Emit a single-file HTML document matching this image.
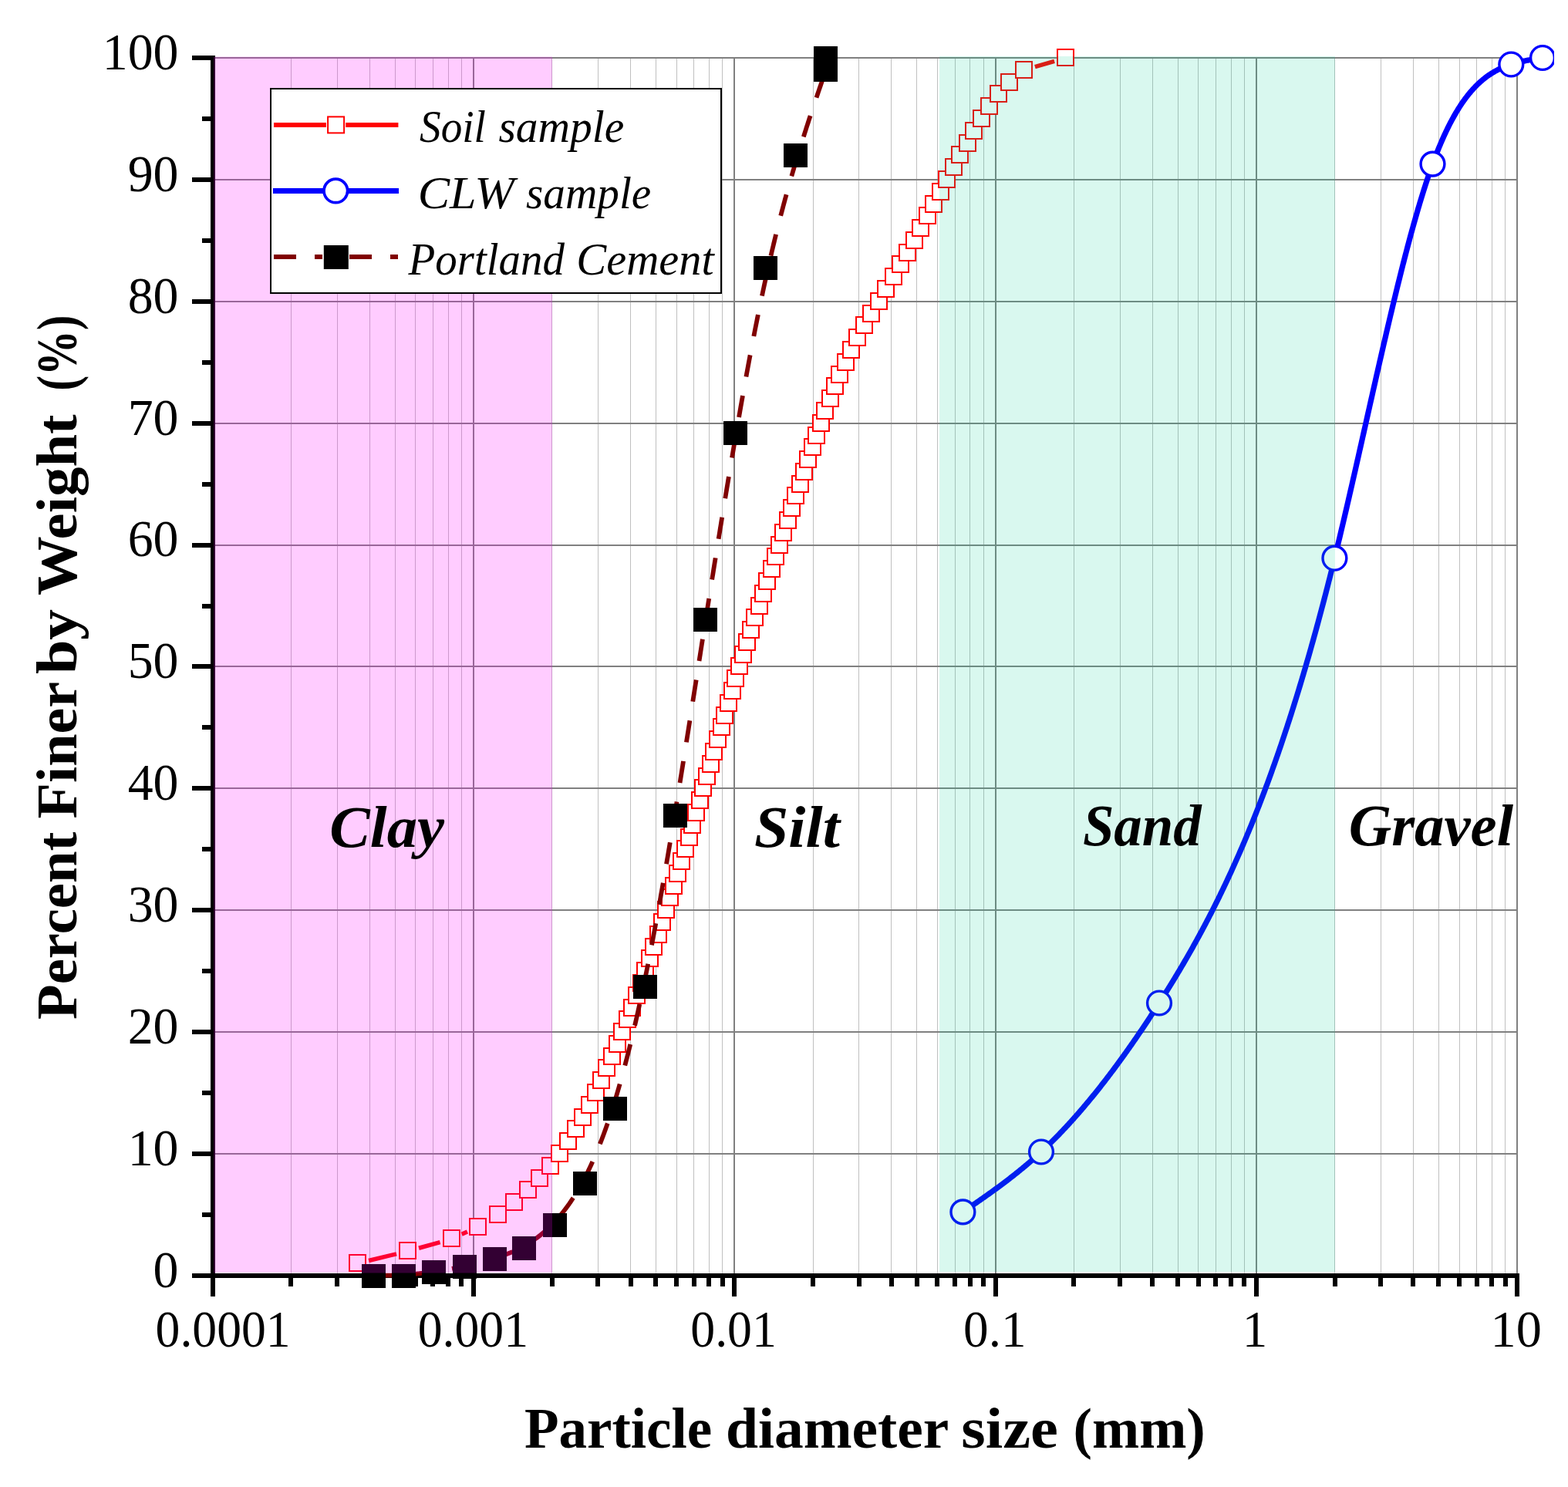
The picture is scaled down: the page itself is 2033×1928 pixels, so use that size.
<!DOCTYPE html><html><head><meta charset="utf-8"><title>Particle size distribution</title><style>html,body{margin:0;padding:0;background:#fff;overflow:hidden}svg{display:block}</style></head><body>
<svg width="2033" height="1928" viewBox="0 0 2033 1928">
<rect x="0" y="0" width="2033" height="1928" fill="#fff"/>
<path d="M377.5 74.0V1651.0M437.5 74.0V1651.0M479.5 74.0V1651.0M512.5 74.0V1651.0M538.5 74.0V1651.0M561.5 74.0V1651.0M581.5 74.0V1651.0M598.5 74.0V1651.0M715.5 74.0V1651.0M775.5 74.0V1651.0M817.5 74.0V1651.0M850.5 74.0V1651.0M877.5 74.0V1651.0M899.5 74.0V1651.0M919.5 74.0V1651.0M936.5 74.0V1651.0M1054.5 74.0V1651.0M1113.5 74.0V1651.0M1155.5 74.0V1651.0M1188.5 74.0V1651.0M1215.5 74.0V1651.0M1238.5 74.0V1651.0M1257.5 74.0V1651.0M1275.5 74.0V1651.0M1392.5 74.0V1651.0M1452.5 74.0V1651.0M1494.5 74.0V1651.0M1527.5 74.0V1651.0M1553.5 74.0V1651.0M1576.5 74.0V1651.0M1596.5 74.0V1651.0M1613.5 74.0V1651.0M1730.5 74.0V1651.0M1790.5 74.0V1651.0M1832.5 74.0V1651.0M1865.5 74.0V1651.0M1892.5 74.0V1651.0M1914.5 74.0V1651.0M1934.5 74.0V1651.0M1951.5 74.0V1651.0" stroke="#c0c0c0" stroke-width="1" fill="none"/>
<path d="M614 74.0V1651.0M952 74.0V1651.0M1291 74.0V1651.0M1629 74.0V1651.0M1967 74.0V1651.0M279.0 1496H1968.0M279.0 1338H1968.0M279.0 1180H1968.0M279.0 1022H1968.0M279.0 864H1968.0M279.0 707H1968.0M279.0 549H1968.0M279.0 391H1968.0M279.0 233H1968.0M279.0 75H1968.0" stroke="#808080" stroke-width="2" fill="none"/>
<path d="M276 72V1657M273 1654H1970M249 1654H276M249 1496H276M249 1338H276M249 1180H276M249 1022H276M249 864H276M249 707H276M249 549H276M249 391H276M249 233H276M249 75H276M262 1575H276M262 1417H276M262 1259H276M262 1101H276M262 943H276M262 786H276M262 628H276M262 470H276M262 312H276M262 154H276M276 1654V1681M614 1654V1681M952 1654V1681M1291 1654V1681M1629 1654V1681M1967 1654V1681M377 1654V1668M437 1654V1668M479 1654V1668M512 1654V1668M539 1654V1668M561 1654V1668M581 1654V1668M598 1654V1668M716 1654V1668M775 1654V1668M818 1654V1668M850 1654V1668M877 1654V1668M900 1654V1668M919 1654V1668M937 1654V1668M1054 1654V1668M1114 1654V1668M1156 1654V1668M1189 1654V1668M1215 1654V1668M1238 1654V1668M1258 1654V1668M1275 1654V1668M1392 1654V1668M1452 1654V1668M1494 1654V1668M1527 1654V1668M1554 1654V1668M1576 1654V1668M1596 1654V1668M1613 1654V1668M1731 1654V1668M1790 1654V1668M1832 1654V1668M1865 1654V1668M1892 1654V1668M1915 1654V1668M1934 1654V1668M1952 1654V1668" stroke="#000" stroke-width="6" fill="none" stroke-linecap="butt"/>
<path d="M478.08,1634.53L514.02,1625.81M543.04,1618.23L570.56,1610.53M598.65,1600.26L605.95,1596.93M1341.90,86.68L1367.10,79.31" stroke="#f00" stroke-width="5.5" fill="none" stroke-linejoin="round" stroke-linecap="butt"/>
<g fill="#fff" stroke="#f00" stroke-width="2"><rect x="453" y="1627" width="21" height="21"/><rect x="518" y="1611" width="21" height="21"/><rect x="575" y="1595" width="21" height="21"/><rect x="609" y="1580" width="21" height="21"/><rect x="635" y="1564" width="21" height="21"/><rect x="656" y="1548" width="21" height="21"/><rect x="674" y="1532" width="21" height="21"/><rect x="689" y="1517" width="21" height="21"/><rect x="703" y="1501" width="21" height="21"/><rect x="715" y="1485" width="21" height="21"/><rect x="726" y="1469" width="21" height="21"/><rect x="736" y="1453" width="21" height="21"/><rect x="745" y="1438" width="21" height="21"/><rect x="754" y="1422" width="21" height="21"/><rect x="762" y="1406" width="21" height="21"/><rect x="769" y="1390" width="21" height="21"/><rect x="776" y="1374" width="21" height="21"/><rect x="783" y="1359" width="21" height="21"/><rect x="790" y="1343" width="21" height="21"/><rect x="796" y="1327" width="21" height="21"/><rect x="803" y="1311" width="21" height="21"/><rect x="809" y="1296" width="21" height="21"/><rect x="815" y="1280" width="21" height="21"/><rect x="821" y="1264" width="21" height="21"/><rect x="826" y="1248" width="21" height="21"/><rect x="832" y="1232" width="21" height="21"/><rect x="837" y="1217" width="21" height="21"/><rect x="843" y="1201" width="21" height="21"/><rect x="848" y="1185" width="21" height="21"/><rect x="853" y="1169" width="21" height="21"/><rect x="858" y="1153" width="21" height="21"/><rect x="863" y="1138" width="21" height="21"/><rect x="868" y="1122" width="21" height="21"/><rect x="873" y="1106" width="21" height="21"/><rect x="878" y="1090" width="21" height="21"/><rect x="883" y="1075" width="21" height="21"/><rect x="887" y="1059" width="21" height="21"/><rect x="892" y="1043" width="21" height="21"/><rect x="897" y="1027" width="21" height="21"/><rect x="901" y="1011" width="21" height="21"/><rect x="906" y="996" width="21" height="21"/><rect x="911" y="980" width="21" height="21"/><rect x="915" y="964" width="21" height="21"/><rect x="920" y="948" width="21" height="21"/><rect x="925" y="932" width="21" height="21"/><rect x="929" y="917" width="21" height="21"/><rect x="934" y="901" width="21" height="21"/><rect x="939" y="885" width="21" height="21"/><rect x="943" y="869" width="21" height="21"/><rect x="948" y="853" width="21" height="21"/><rect x="953" y="838" width="21" height="21"/><rect x="958" y="822" width="21" height="21"/><rect x="963" y="806" width="21" height="21"/><rect x="968" y="790" width="21" height="21"/><rect x="974" y="775" width="21" height="21"/><rect x="979" y="759" width="21" height="21"/><rect x="984" y="743" width="21" height="21"/><rect x="990" y="727" width="21" height="21"/><rect x="995" y="711" width="21" height="21"/><rect x="1000" y="696" width="21" height="21"/><rect x="1005" y="680" width="21" height="21"/><rect x="1011" y="664" width="21" height="21"/><rect x="1016" y="648" width="21" height="21"/><rect x="1021" y="632" width="21" height="21"/><rect x="1027" y="617" width="21" height="21"/><rect x="1032" y="601" width="21" height="21"/><rect x="1037" y="585" width="21" height="21"/><rect x="1043" y="569" width="21" height="21"/><rect x="1048" y="554" width="21" height="21"/><rect x="1054" y="538" width="21" height="21"/><rect x="1059" y="522" width="21" height="21"/><rect x="1066" y="506" width="21" height="21"/><rect x="1072" y="490" width="21" height="21"/><rect x="1078" y="475" width="21" height="21"/><rect x="1086" y="459" width="21" height="21"/><rect x="1093" y="443" width="21" height="21"/><rect x="1101" y="427" width="21" height="21"/><rect x="1110" y="411" width="21" height="21"/><rect x="1119" y="396" width="21" height="21"/><rect x="1129" y="380" width="21" height="21"/><rect x="1138" y="364" width="21" height="21"/><rect x="1148" y="348" width="21" height="21"/><rect x="1157" y="332" width="21" height="21"/><rect x="1166" y="317" width="21" height="21"/><rect x="1175" y="301" width="21" height="21"/><rect x="1183" y="285" width="21" height="21"/><rect x="1192" y="269" width="21" height="21"/><rect x="1200" y="254" width="21" height="21"/><rect x="1209" y="238" width="21" height="21"/><rect x="1217" y="222" width="21" height="21"/><rect x="1226" y="206" width="21" height="21"/><rect x="1234" y="190" width="21" height="21"/><rect x="1244" y="175" width="21" height="21"/><rect x="1252" y="159" width="21" height="21"/><rect x="1262" y="143" width="21" height="21"/><rect x="1272" y="127" width="21" height="21"/><rect x="1284" y="111" width="21" height="21"/><rect x="1298" y="96" width="21" height="21"/><rect x="1317" y="80" width="21" height="21"/><rect x="1371" y="64" width="21" height="21"/></g>
<defs><clipPath id="pg"><rect x="0" y="0" width="2015" height="1928"/></clipPath></defs><g clip-path="url(#pg)">
<path d="M1248.40,1571.40 1249.40,1570.71 1250.40,1570.03 1251.40,1569.34 1252.40,1568.65 1253.40,1567.97 1254.40,1567.28 1255.41,1566.59 1256.41,1565.90 1257.41,1565.21 1258.41,1564.52 1259.41,1563.84 1260.41,1563.15 1261.41,1562.45 1262.41,1561.76 1263.41,1561.07 1264.41,1560.38 1265.41,1559.69 1266.41,1558.99 1267.42,1558.30 1268.42,1557.60 1269.42,1556.91 1270.42,1556.21 1271.42,1555.51 1272.42,1554.81 1273.42,1554.11 1274.42,1553.41 1275.42,1552.70 1276.42,1552.00 1277.42,1551.29 1278.42,1550.59 1279.42,1549.88 1280.43,1549.17 1281.43,1548.46 1282.43,1547.74 1283.43,1547.03 1284.43,1546.31 1285.43,1545.59 1286.43,1544.87 1287.43,1544.15 1288.43,1543.43 1289.43,1542.70 1290.43,1541.98 1291.43,1541.25 1292.44,1540.52 1293.44,1539.78 1294.44,1539.05 1295.44,1538.31 1296.44,1537.57 1297.44,1536.83 1298.44,1536.08 1299.44,1535.34 1300.44,1534.59 1301.44,1533.84 1302.44,1533.08 1303.44,1532.33 1304.44,1531.57 1305.45,1530.81 1306.45,1530.04 1307.45,1529.27 1308.45,1528.51 1309.45,1527.73 1310.45,1526.96 1311.45,1526.18 1312.45,1525.40 1313.45,1524.61 1314.45,1523.83 1315.45,1523.03 1316.45,1522.24 1317.46,1521.44 1318.46,1520.64 1319.46,1519.84 1320.46,1519.03 1321.46,1518.22 1322.46,1517.41 1323.46,1516.59 1324.46,1515.77 1325.46,1514.95 1326.46,1514.12 1327.46,1513.29 1328.46,1512.46 1329.46,1511.62 1330.47,1510.77 1331.47,1509.93 1332.47,1509.08 1333.47,1508.22 1334.47,1507.36 1335.47,1506.50 1336.47,1505.64 1337.47,1504.77 1338.47,1503.89 1339.47,1503.01 1340.47,1502.13 1341.47,1501.24 1342.48,1500.35 1343.48,1499.45 1344.48,1498.55 1345.48,1497.65 1346.48,1496.74 1347.48,1495.82 1348.48,1494.90 1349.48,1493.98 1350.48,1493.05 1351.48,1492.12 1352.48,1491.18 1353.48,1490.24 1354.48,1489.29 1355.49,1488.34 1356.49,1487.38 1357.49,1486.42 1358.49,1485.45 1359.49,1484.48 1360.49,1483.51 1361.49,1482.53 1362.49,1481.54 1363.49,1480.55 1364.49,1479.56 1365.49,1478.56 1366.49,1477.56 1367.50,1476.55 1368.50,1475.54 1369.50,1474.52 1370.50,1473.50 1371.50,1472.47 1372.50,1471.44 1373.50,1470.40 1374.50,1469.36 1375.50,1468.32 1376.50,1467.27 1377.50,1466.21 1378.50,1465.15 1379.50,1464.09 1380.51,1463.02 1381.51,1461.95 1382.51,1460.87 1383.51,1459.79 1384.51,1458.71 1385.51,1457.62 1386.51,1456.52 1387.51,1455.42 1388.51,1454.32 1389.51,1453.21 1390.51,1452.10 1391.51,1450.98 1392.52,1449.86 1393.52,1448.73 1394.52,1447.60 1395.52,1446.47 1396.52,1445.33 1397.52,1444.18 1398.52,1443.04 1399.52,1441.88 1400.52,1440.73 1401.52,1439.57 1402.52,1438.40 1403.52,1437.23 1404.52,1436.06 1405.53,1434.88 1406.53,1433.69 1407.53,1432.51 1408.53,1431.31 1409.53,1430.12 1410.53,1428.92 1411.53,1427.71 1412.53,1426.51 1413.53,1425.29 1414.53,1424.07 1415.53,1422.85 1416.53,1421.63 1417.54,1420.40 1418.54,1419.16 1419.54,1417.92 1420.54,1416.68 1421.54,1415.43 1422.54,1414.18 1423.54,1412.93 1424.54,1411.67 1425.54,1410.40 1426.54,1409.14 1427.54,1407.86 1428.54,1406.59 1429.54,1405.31 1430.55,1404.02 1431.55,1402.73 1432.55,1401.44 1433.55,1400.14 1434.55,1398.84 1435.55,1397.54 1436.55,1396.23 1437.55,1394.91 1438.55,1393.60 1439.55,1392.27 1440.55,1390.95 1441.55,1389.62 1442.55,1388.28 1443.56,1386.95 1444.56,1385.60 1445.56,1384.26 1446.56,1382.91 1447.56,1381.55 1448.56,1380.20 1449.56,1378.83 1450.56,1377.47 1451.56,1376.10 1452.56,1374.72 1453.56,1373.35 1454.56,1371.96 1455.57,1370.58 1456.57,1369.19 1457.57,1367.80 1458.57,1366.40 1459.57,1365.00 1460.57,1363.59 1461.57,1362.18 1462.57,1360.77 1463.57,1359.35 1464.57,1357.93 1465.57,1356.50 1466.57,1355.07 1467.57,1353.64 1468.58,1352.21 1469.58,1350.77 1470.58,1349.32 1471.58,1347.87 1472.58,1346.42 1473.58,1344.96 1474.58,1343.51 1475.58,1342.04 1476.58,1340.57 1477.58,1339.10 1478.58,1337.63 1479.58,1336.15 1480.59,1334.67 1481.59,1333.18 1482.59,1331.69 1483.59,1330.20 1484.59,1328.70 1485.59,1327.20 1486.59,1325.70 1487.59,1324.19 1488.59,1322.68 1489.59,1321.16 1490.59,1319.64 1491.59,1318.12 1492.59,1316.59 1493.60,1315.06 1494.60,1313.53 1495.60,1311.99 1496.60,1310.45 1497.60,1308.90 1498.60,1307.35 1499.60,1305.80 1500.60,1304.24 1501.60,1302.68 1502.60,1301.12 1503.60,1299.55 1504.60,1297.98 1505.61,1296.41 1506.61,1294.83 1507.61,1293.25 1508.61,1291.67 1509.61,1290.08 1510.61,1288.48 1511.61,1286.88 1512.61,1285.28 1513.61,1283.68 1514.61,1282.07 1515.61,1280.45 1516.61,1278.83 1517.61,1277.21 1518.62,1275.58 1519.62,1273.95 1520.62,1272.31 1521.62,1270.67 1522.62,1269.02 1523.62,1267.37 1524.62,1265.72 1525.62,1264.05 1526.62,1262.39 1527.62,1260.72 1528.62,1259.04 1529.62,1257.36 1530.63,1255.67 1531.63,1253.98 1532.63,1252.28 1533.63,1250.57 1534.63,1248.86 1535.63,1247.15 1536.63,1245.43 1537.63,1243.70 1538.63,1241.97 1539.63,1240.23 1540.63,1238.49 1541.63,1236.74 1542.63,1234.98 1543.64,1233.22 1544.64,1231.45 1545.64,1229.67 1546.64,1227.89 1547.64,1226.10 1548.64,1224.31 1549.64,1222.51 1550.64,1220.70 1551.64,1218.88 1552.64,1217.06 1553.64,1215.23 1554.64,1213.40 1555.65,1211.56 1556.65,1209.71 1557.65,1207.85 1558.65,1205.99 1559.65,1204.12 1560.65,1202.24 1561.65,1200.35 1562.65,1198.46 1563.65,1196.56 1564.65,1194.65 1565.65,1192.74 1566.65,1190.81 1567.65,1188.88 1568.66,1186.94 1569.66,1185.00 1570.66,1183.04 1571.66,1181.08 1572.66,1179.11 1573.66,1177.13 1574.66,1175.14 1575.66,1173.15 1576.66,1171.14 1577.66,1169.13 1578.66,1167.11 1579.66,1165.08 1580.67,1163.04 1581.67,1161.00 1582.67,1158.94 1583.67,1156.88 1584.67,1154.80 1585.67,1152.72 1586.67,1150.63 1587.67,1148.53 1588.67,1146.42 1589.67,1144.30 1590.67,1142.18 1591.67,1140.04 1592.67,1137.89 1593.68,1135.74 1594.68,1133.57 1595.68,1131.40 1596.68,1129.21 1597.68,1127.02 1598.68,1124.82 1599.68,1122.60 1600.68,1120.38 1601.68,1118.14 1602.68,1115.90 1603.68,1113.65 1604.68,1111.38 1605.69,1109.11 1606.69,1106.82 1607.69,1104.53 1608.69,1102.22 1609.69,1099.90 1610.69,1097.58 1611.69,1095.24 1612.69,1092.89 1613.69,1090.53 1614.69,1088.16 1615.69,1085.78 1616.69,1083.39 1617.69,1080.99 1618.70,1078.57 1619.70,1076.15 1620.70,1073.71 1621.70,1071.27 1622.70,1068.81 1623.70,1066.34 1624.70,1063.86 1625.70,1061.36 1626.70,1058.86 1627.70,1056.34 1628.70,1053.81 1629.70,1051.27 1630.71,1048.72 1631.71,1046.15 1632.71,1043.58 1633.71,1040.99 1634.71,1038.39 1635.71,1035.78 1636.71,1033.15 1637.71,1030.51 1638.71,1027.86 1639.71,1025.20 1640.71,1022.53 1641.71,1019.84 1642.71,1017.14 1643.72,1014.43 1644.72,1011.70 1645.72,1008.96 1646.72,1006.21 1647.72,1003.45 1648.72,1000.67 1649.72,997.88 1650.72,995.07 1651.72,992.26 1652.72,989.43 1653.72,986.58 1654.72,983.72 1655.73,980.85 1656.73,977.97 1657.73,975.07 1658.73,972.16 1659.73,969.23 1660.73,966.29 1661.73,963.34 1662.73,960.37 1663.73,957.39 1664.73,954.39 1665.73,951.38 1666.73,948.36 1667.73,945.32 1668.74,942.27 1669.74,939.20 1670.74,936.12 1671.74,933.02 1672.74,929.91 1673.74,926.78 1674.74,923.64 1675.74,920.49 1676.74,917.32 1677.74,914.13 1678.74,910.93 1679.74,907.72 1680.75,904.48 1681.75,901.24 1682.75,897.98 1683.75,894.70 1684.75,891.41 1685.75,888.10 1686.75,884.78 1687.75,881.44 1688.75,878.08 1689.75,874.71 1690.75,871.33 1691.75,867.92 1692.75,864.51 1693.76,861.07 1694.76,857.62 1695.76,854.15 1696.76,850.67 1697.76,847.17 1698.76,843.66 1699.76,840.13 1700.76,836.58 1701.76,833.01 1702.76,829.43 1703.76,825.83 1704.76,822.22 1705.77,818.59 1706.77,814.94 1707.77,811.27 1708.77,807.59 1709.77,803.89 1710.77,800.17 1711.77,796.44 1712.77,792.69 1713.77,788.92 1714.77,785.13 1715.77,781.33 1716.77,777.51 1717.77,773.67 1718.78,769.81 1719.78,765.94 1720.78,762.04 1721.78,758.13 1722.78,754.21 1723.78,750.26 1724.78,746.30 1725.78,742.32 1726.78,738.31 1727.78,734.30 1728.78,730.26 1729.78,726.20 1730.79,722.13 1731.79,718.04 1732.79,713.93 1733.79,709.80 1734.79,705.66 1735.79,701.50 1736.79,697.32 1737.79,693.13 1738.79,688.92 1739.79,684.70 1740.79,680.46 1741.79,676.21 1742.79,671.95 1743.80,667.67 1744.80,663.38 1745.80,659.08 1746.80,654.77 1747.80,650.44 1748.80,646.11 1749.80,641.77 1750.80,637.41 1751.80,633.05 1752.80,628.68 1753.80,624.30 1754.80,619.91 1755.81,615.52 1756.81,611.11 1757.81,606.71 1758.81,602.29 1759.81,597.87 1760.81,593.45 1761.81,589.02 1762.81,584.58 1763.81,580.14 1764.81,575.70 1765.81,571.26 1766.81,566.81 1767.81,562.36 1768.82,557.92 1769.82,553.46 1770.82,549.01 1771.82,544.56 1772.82,540.11 1773.82,535.66 1774.82,531.21 1775.82,526.77 1776.82,522.32 1777.82,517.88 1778.82,513.44 1779.82,509.01 1780.83,504.57 1781.83,500.15 1782.83,495.72 1783.83,491.31 1784.83,486.90 1785.83,482.49 1786.83,478.10 1787.83,473.71 1788.83,469.32 1789.83,464.95 1790.83,460.58 1791.83,456.23 1792.83,451.88 1793.84,447.54 1794.84,443.21 1795.84,438.90 1796.84,434.59 1797.84,430.30 1798.84,426.02 1799.84,421.75 1800.84,417.50 1801.84,413.25 1802.84,409.03 1803.84,404.81 1804.84,400.62 1805.85,396.43 1806.85,392.27 1807.85,388.12 1808.85,383.98 1809.85,379.87 1810.85,375.77 1811.85,371.69 1812.85,367.63 1813.85,363.59 1814.85,359.56 1815.85,355.56 1816.85,351.58 1817.85,347.62 1818.86,343.68 1819.86,339.76 1820.86,335.86 1821.86,331.99 1822.86,328.14 1823.86,324.31 1824.86,320.51 1825.86,316.73 1826.86,312.98 1827.86,309.25 1828.86,305.55 1829.86,301.88 1830.86,298.23 1831.87,294.61 1832.87,291.01 1833.87,287.45 1834.87,283.91 1835.87,280.41 1836.87,276.93 1837.87,273.48 1838.87,270.06 1839.87,266.68 1840.87,263.32 1841.87,260.00 1842.87,256.71 1843.88,253.45 1844.88,250.23 1845.88,247.04 1846.88,243.88 1847.88,240.76 1848.88,237.67 1849.88,234.62 1850.88,231.60 1851.88,228.63 1852.88,225.68 1853.88,222.78 1854.88,219.91 1855.88,217.08 1856.89,214.29 1857.89,211.54 1858.89,208.83 1859.89,206.16 1860.89,203.52 1861.89,200.93 1862.89,198.37 1863.89,195.85 1864.89,193.37 1865.89,190.92 1866.89,188.52 1867.89,186.15 1868.90,183.81 1869.90,181.51 1870.90,179.25 1871.90,177.02 1872.90,174.83 1873.90,172.67 1874.90,170.54 1875.90,168.45 1876.90,166.40 1877.90,164.37 1878.90,162.38 1879.90,160.43 1880.90,158.50 1881.91,156.61 1882.91,154.75 1883.91,152.92 1884.91,151.13 1885.91,149.36 1886.91,147.63 1887.91,145.92 1888.91,144.25 1889.91,142.60 1890.91,140.99 1891.91,139.40 1892.91,137.85 1893.92,136.32 1894.92,134.82 1895.92,133.34 1896.92,131.90 1897.92,130.48 1898.92,129.09 1899.92,127.73 1900.92,126.39 1901.92,125.08 1902.92,123.80 1903.92,122.54 1904.92,121.30 1905.92,120.09 1906.93,118.91 1907.93,117.75 1908.93,116.61 1909.93,115.50 1910.93,114.41 1911.93,113.35 1912.93,112.30 1913.93,111.28 1914.93,110.28 1915.93,109.30 1916.93,108.35 1917.93,107.42 1918.94,106.50 1919.94,105.61 1920.94,104.74 1921.94,103.88 1922.94,103.05 1923.94,102.24 1924.94,101.44 1925.94,100.67 1926.94,99.91 1927.94,99.17 1928.94,98.45 1929.94,97.75 1930.94,97.06 1931.95,96.39 1932.95,95.74 1933.95,95.10 1934.95,94.48 1935.95,93.88 1936.95,93.29 1937.95,92.72 1938.95,92.16 1939.95,91.61 1940.95,91.08 1941.95,90.57 1942.95,90.06 1943.96,89.57 1944.96,89.10 1945.96,88.63 1946.96,88.18 1947.96,87.74 1948.96,87.31 1949.96,86.89 1950.96,86.49 1951.96,86.09 1952.96,85.71 1953.96,85.34 1954.96,84.97 1955.96,84.62 1956.97,84.27 1957.97,83.93 1958.97,83.61 1959.97,83.29 1960.97,82.98 1961.97,82.67 1962.97,82.38 1963.97,82.09 1964.97,81.81 1965.97,81.53 1966.97,81.27 1967.97,81.01 1968.98,80.75 1969.98,80.51 1970.98,80.26 1971.98,80.03 1972.98,79.80 1973.98,79.57 1974.98,79.36 1975.98,79.14 1976.98,78.93 1977.98,78.73 1978.98,78.53 1979.98,78.33 1980.98,78.14 1981.99,77.95 1982.99,77.77 1983.99,77.59 1984.99,77.41 1985.99,77.24 1986.99,77.06 1987.99,76.90 1988.99,76.73 1989.99,76.56 1990.99,76.40 1991.99,76.24 1992.99,76.08 1994.00,75.93 1995.00,75.77 1996.00,75.61 1997.00,75.46 1998.00,75.31 1999.00,75.15 2000.00,75.00" stroke="#00f" stroke-width="7.2" fill="none" stroke-linejoin="round"/>
<g fill="#fff" stroke="#00f" stroke-width="3.4"><circle cx="1248.4" cy="1571.4" r="15.4"/><circle cx="1350" cy="1493.5" r="15.4"/><circle cx="1503" cy="1300.5" r="15.4"/><circle cx="1730.4" cy="723.7" r="15.4"/><circle cx="1857.5" cy="212.6" r="15.4"/><circle cx="1959.3" cy="83.5" r="15.4"/><circle cx="2000" cy="75" r="15.4"/></g></g>
<path d="M484.50,1653.85 485.45,1653.85 486.39,1653.85 487.33,1653.85 488.25,1653.84 489.17,1653.84 490.08,1653.83 490.99,1653.83 491.89,1653.82 492.78,1653.81 493.66,1653.80 494.53,1653.79 495.40,1653.78 496.26,1653.77 497.12,1653.76 497.96,1653.75 498.80,1653.74 499.63,1653.72 500.46,1653.71 501.28,1653.69 502.09,1653.67 502.90,1653.65 503.70,1653.64 504.49,1653.62 505.28,1653.60 506.06,1653.58 506.83,1653.56 507.60,1653.53 508.36,1653.51 509.11,1653.49 509.86,1653.46 510.60,1653.44 511.33,1653.41 512.06,1653.39 512.79,1653.36 513.50,1653.33 514.22,1653.30 514.92,1653.27 515.62,1653.24 516.32,1653.21 517.00,1653.18 517.69,1653.15 518.36,1653.12 519.04,1653.09 519.70,1653.05 520.36,1653.02 521.02,1652.98 521.67,1652.95 522.31,1652.91 522.95,1652.88 523.59,1652.84 524.21,1652.80 524.84,1652.76 525.46,1652.72 526.07,1652.69 526.68,1652.65 527.29,1652.61 527.88,1652.57 528.48,1652.52 529.07,1652.48 529.65,1652.44 530.24,1652.40 530.81,1652.35 531.38,1652.31 531.95,1652.27 532.51,1652.22 533.07,1652.18 533.63,1652.13 534.18,1652.09 534.72,1652.04 535.26,1652.00 535.80,1651.95 536.33,1651.90 536.86,1651.85 537.39,1651.81 537.91,1651.76 538.43,1651.71 538.94,1651.66 539.45,1651.61 539.96,1651.56 540.46,1651.51 540.96,1651.46 541.46,1651.41 541.95,1651.36 542.44,1651.31 542.93,1651.26 543.41,1651.20 543.89,1651.15 544.37,1651.10 544.84,1651.05 545.31,1650.99 545.78,1650.94 546.24,1650.89 546.70,1650.83 547.16,1650.78 547.62,1650.73 548.07,1650.67 548.52,1650.62 548.97,1650.56 549.41,1650.51 549.85,1650.46 550.29,1650.40 550.73,1650.34 551.17,1650.29 551.60,1650.23 552.03,1650.18 552.46,1650.12 552.88,1650.07 553.31,1650.01 553.73,1649.96 554.15,1649.90 554.57,1649.84 554.98,1649.79 555.39,1649.73 555.81,1649.67 556.22,1649.62 556.63,1649.56 557.03,1649.51 557.44,1649.45 557.84,1649.39 558.24,1649.34 558.64,1649.28 559.04,1649.22 559.44,1649.17 559.84,1649.11 560.23,1649.05 560.63,1649.00 561.02,1648.94 561.41,1648.88 561.80,1648.83 562.19,1648.77 562.58,1648.72 562.97,1648.66 563.35,1648.60 563.74,1648.55 564.12,1648.49 564.50,1648.43 564.88,1648.38 565.26,1648.32 565.64,1648.26 566.02,1648.21 566.39,1648.15 566.77,1648.09 567.14,1648.04 567.52,1647.98 567.89,1647.93 568.26,1647.87 568.63,1647.81 569.00,1647.76 569.37,1647.70 569.73,1647.64 570.10,1647.59 570.46,1647.53 570.83,1647.47 571.19,1647.42 571.55,1647.36 571.91,1647.30 572.27,1647.25 572.63,1647.19 572.99,1647.13 573.35,1647.08 573.70,1647.02 574.06,1646.96 574.41,1646.90 574.77,1646.85 575.12,1646.79 575.47,1646.73 575.82,1646.68 576.17,1646.62 576.52,1646.56 576.87,1646.50 577.22,1646.45 577.57,1646.39 577.91,1646.33 578.26,1646.27 578.60,1646.21 578.95,1646.16 579.29,1646.10 579.63,1646.04 579.97,1645.98 580.32,1645.92 580.66,1645.87 581.00,1645.81 581.34,1645.75 581.67,1645.69 582.01,1645.63 582.35,1645.57 582.69,1645.51 583.02,1645.45 583.36,1645.40 583.69,1645.34 584.02,1645.28 584.36,1645.22 584.69,1645.16 585.02,1645.10 585.36,1645.04 585.69,1644.98 586.02,1644.92 586.35,1644.86 586.68,1644.80 587.01,1644.74 587.34,1644.68 587.66,1644.62 587.99,1644.56 588.32,1644.49 588.65,1644.43 588.97,1644.37 589.30,1644.31 589.62,1644.25 589.95,1644.19 590.27,1644.13 590.60,1644.07 590.92,1644.00 591.25,1643.94 591.57,1643.88 591.89,1643.82 592.22,1643.75 592.54,1643.69 592.86,1643.63 593.18,1643.57 593.50,1643.50 593.83,1643.44 594.15,1643.38 594.47,1643.31 594.79,1643.25 595.11,1643.18 595.43,1643.12 595.75,1643.06 596.07,1642.99 596.39,1642.93 596.71,1642.86 597.03,1642.80 597.34,1642.73 597.66,1642.67 597.98,1642.60 598.30,1642.53 598.62,1642.47 598.94,1642.40 599.26,1642.34 599.57,1642.27 599.89,1642.20 600.21,1642.14 600.53,1642.07 600.85,1642.00 601.16,1641.93 601.48,1641.87 601.80,1641.80 602.12,1641.73 602.44,1641.66 602.75,1641.59 603.07,1641.53 603.39,1641.46 603.71,1641.39 604.03,1641.32 604.34,1641.25 604.66,1641.18 604.98,1641.11 605.30,1641.04 605.61,1640.97 605.93,1640.90 606.25,1640.83 606.57,1640.75 606.89,1640.68 607.20,1640.61 607.52,1640.54 607.84,1640.47 608.16,1640.40 608.48,1640.32 608.79,1640.25 609.11,1640.18 609.43,1640.10 609.75,1640.03 610.07,1639.96 610.38,1639.88 610.70,1639.81 611.02,1639.74 611.34,1639.66 611.65,1639.59 611.97,1639.51 612.29,1639.44 612.61,1639.36 612.93,1639.28 613.24,1639.21 613.56,1639.13 613.88,1639.06 614.20,1638.98 614.52,1638.90 614.83,1638.83 615.15,1638.75 615.47,1638.67 615.79,1638.59 616.10,1638.51 616.42,1638.44 616.74,1638.36 617.06,1638.28 617.38,1638.20 617.69,1638.12 618.01,1638.04 618.33,1637.96 618.65,1637.88 618.97,1637.80 619.28,1637.72 619.60,1637.64 619.92,1637.56 620.24,1637.48 620.56,1637.40 620.87,1637.31 621.19,1637.23 621.51,1637.15 621.83,1637.07 622.14,1636.98 622.46,1636.90 622.78,1636.82 623.10,1636.73 623.42,1636.65 623.73,1636.57 624.05,1636.48 624.37,1636.40 624.69,1636.31 625.01,1636.23 625.32,1636.14 625.64,1636.06 625.96,1635.97 626.28,1635.88 626.60,1635.80 626.91,1635.71 627.23,1635.62 627.55,1635.54 627.87,1635.45 628.18,1635.36 628.50,1635.27 628.82,1635.18 629.14,1635.10 629.46,1635.01 629.77,1634.92 630.09,1634.83 630.41,1634.74 630.73,1634.65 631.05,1634.56 631.36,1634.47 631.68,1634.38 632.00,1634.29 632.32,1634.19 632.63,1634.10 632.95,1634.01 633.27,1633.92 633.59,1633.83 633.91,1633.73 634.22,1633.64 634.54,1633.55 634.86,1633.45 635.18,1633.36 635.50,1633.26 635.81,1633.17 636.13,1633.07 636.45,1632.98 636.77,1632.88 637.09,1632.79 637.40,1632.69 637.72,1632.60 638.04,1632.50 638.36,1632.40 638.67,1632.30 638.99,1632.21 639.31,1632.11 639.63,1632.01 639.95,1631.91 640.26,1631.81 640.58,1631.72 640.90,1631.62 641.22,1631.52 641.54,1631.42 641.85,1631.32 642.17,1631.22 642.49,1631.11 642.81,1631.01 643.13,1630.91 643.44,1630.81 643.76,1630.71 644.08,1630.61 644.40,1630.50 644.71,1630.40 645.03,1630.30 645.35,1630.19 645.67,1630.09 645.99,1629.98 646.30,1629.88 646.62,1629.77 646.94,1629.66 647.26,1629.56 647.58,1629.45 647.89,1629.34 648.21,1629.24 648.53,1629.13 648.85,1629.02 649.17,1628.91 649.48,1628.80 649.80,1628.69 650.12,1628.58 650.44,1628.47 650.75,1628.36 651.07,1628.25 651.39,1628.13 651.71,1628.02 652.03,1627.91 652.34,1627.80 652.66,1627.68 652.98,1627.57 653.30,1627.45 653.62,1627.34 653.93,1627.22 654.25,1627.10 654.57,1626.98 654.89,1626.87 655.20,1626.75 655.52,1626.63 655.84,1626.51 656.16,1626.39 656.48,1626.27 656.79,1626.15 657.11,1626.03 657.43,1625.90 657.75,1625.78 658.07,1625.66 658.38,1625.53 658.70,1625.41 659.02,1625.28 659.34,1625.16 659.66,1625.03 659.97,1624.90 660.29,1624.77 660.61,1624.64 660.93,1624.52 661.24,1624.39 661.56,1624.25 661.88,1624.12 662.20,1623.99 662.52,1623.86 662.83,1623.73 663.15,1623.59 663.47,1623.46 663.79,1623.32 664.11,1623.18 664.42,1623.05 664.74,1622.91 665.06,1622.77 665.38,1622.63 665.70,1622.49 666.01,1622.35 666.33,1622.21 666.65,1622.07 666.97,1621.93 667.28,1621.78 667.60,1621.64 667.92,1621.49 668.24,1621.35 668.56,1621.20 668.87,1621.05 669.19,1620.91 669.51,1620.76 669.83,1620.61 670.15,1620.46 670.46,1620.31 670.78,1620.15 671.10,1620.00 671.42,1619.85 671.73,1619.69 672.05,1619.54 672.37,1619.38 672.69,1619.22 673.01,1619.06 673.32,1618.90 673.64,1618.75 673.96,1618.58 674.28,1618.42 674.60,1618.26 674.91,1618.10 675.23,1617.93 675.55,1617.77 675.87,1617.60 676.19,1617.43 676.50,1617.27 676.82,1617.10 677.14,1616.93 677.46,1616.76 677.77,1616.58 678.09,1616.41 678.41,1616.24 678.73,1616.06 679.05,1615.89 679.36,1615.71 679.68,1615.53 680.00,1615.35 680.32,1615.18 680.64,1614.99 680.95,1614.81 681.27,1614.63 681.59,1614.45 681.91,1614.26 682.23,1614.08 682.54,1613.89 682.86,1613.70 683.18,1613.51 683.50,1613.32 683.81,1613.13 684.13,1612.94 684.45,1612.75 684.77,1612.55 685.09,1612.36 685.40,1612.16 685.72,1611.97 686.04,1611.77 686.36,1611.57 686.68,1611.37 686.99,1611.17 687.31,1610.96 687.63,1610.76 687.95,1610.56 688.27,1610.35 688.58,1610.14 688.90,1609.93 689.22,1609.72 689.54,1609.51 689.85,1609.30 690.17,1609.09 690.49,1608.88 690.81,1608.66 691.13,1608.44 691.44,1608.23 691.76,1608.01 692.08,1607.79 692.40,1607.57 692.72,1607.35 693.03,1607.12 693.35,1606.90 693.67,1606.67 693.99,1606.44 694.30,1606.22 694.62,1605.99 694.94,1605.76 695.26,1605.52 695.58,1605.29 695.89,1605.06 696.21,1604.82 696.53,1604.58 696.85,1604.35 697.17,1604.11 697.48,1603.87 697.80,1603.62 698.12,1603.38 698.44,1603.14 698.76,1602.89 699.07,1602.64 699.39,1602.40 699.71,1602.15 700.03,1601.89 700.34,1601.64 700.66,1601.39 700.98,1601.13 701.30,1600.88 701.62,1600.62 701.93,1600.36 702.25,1600.10 702.57,1599.84 702.89,1599.58 703.21,1599.31 703.52,1599.05 703.84,1598.78 704.16,1598.51 704.48,1598.24 704.80,1597.97 705.11,1597.70 705.43,1597.42 705.75,1597.15 706.07,1596.87 706.38,1596.59 706.70,1596.31 707.02,1596.03 707.34,1595.75 707.66,1595.47 707.97,1595.18 708.29,1594.89 708.61,1594.61 708.93,1594.32 709.25,1594.03 709.56,1593.73 709.88,1593.44 710.20,1593.14 710.52,1592.85 710.83,1592.55 711.15,1592.25 711.47,1591.95 711.79,1591.64 712.11,1591.34 712.42,1591.03 712.74,1590.73 713.06,1590.42 713.38,1590.11 713.70,1589.80 714.01,1589.48 714.33,1589.17 714.65,1588.85 714.97,1588.53 715.29,1588.21 715.60,1587.89 715.92,1587.57 716.24,1587.24 716.56,1586.92 716.87,1586.59 717.19,1586.26 717.51,1585.93 717.83,1585.60 718.15,1585.26 718.46,1584.93 718.78,1584.59 719.10,1584.25 719.42,1583.91 719.74,1583.57 720.05,1583.23 720.37,1582.88 720.69,1582.54 721.01,1582.19 721.33,1581.84 721.64,1581.48 721.96,1581.13 722.28,1580.78 722.60,1580.42 722.91,1580.06 723.23,1579.70 723.55,1579.34 723.87,1578.97 724.19,1578.61 724.50,1578.24 724.82,1577.87 725.14,1577.50 725.46,1577.13 725.78,1576.75 726.09,1576.38 726.41,1576.00 726.73,1575.62 727.05,1575.23 727.37,1574.85 727.68,1574.46 728.00,1574.08 728.32,1573.69 728.64,1573.30 728.95,1572.90 729.27,1572.51 729.59,1572.11 729.91,1571.71 730.23,1571.31 730.54,1570.91 730.86,1570.50 731.18,1570.09 731.50,1569.68 731.82,1569.27 732.13,1568.86 732.45,1568.44 732.77,1568.03 733.09,1567.61 733.40,1567.19 733.72,1566.76 734.04,1566.34 734.36,1565.91 734.68,1565.48 734.99,1565.05 735.31,1564.61 735.63,1564.18 735.95,1563.74 736.27,1563.30 736.58,1562.86 736.90,1562.41 737.22,1561.97 737.54,1561.52 737.86,1561.07 738.17,1560.61 738.49,1560.16 738.81,1559.70 739.13,1559.24 739.44,1558.78 739.76,1558.31 740.08,1557.84 740.40,1557.38 740.72,1556.90 741.03,1556.43 741.35,1555.95 741.67,1555.48 741.99,1554.99 742.31,1554.51 742.62,1554.03 742.94,1553.54 743.26,1553.05 743.58,1552.56 743.90,1552.06 744.21,1551.56 744.53,1551.06 744.85,1550.56 745.17,1550.06 745.48,1549.55 745.80,1549.04 746.12,1548.53 746.44,1548.01 746.76,1547.50 747.07,1546.98 747.39,1546.46 747.71,1545.93 748.03,1545.40 748.35,1544.88 748.66,1544.34 748.98,1543.81 749.30,1543.27 749.62,1542.73 749.93,1542.19 750.25,1541.65 750.57,1541.10 750.89,1540.55 751.21,1540.00 751.52,1539.44 751.84,1538.88 752.16,1538.32 752.48,1537.76 752.80,1537.19 753.11,1536.62 753.43,1536.05 753.75,1535.48 754.07,1534.90 754.39,1534.32 754.70,1533.74 755.02,1533.16 755.34,1532.57 755.66,1531.98 755.97,1531.39 756.29,1530.79 756.61,1530.19 756.93,1529.59 757.25,1528.99 757.56,1528.38 757.88,1527.77 758.20,1527.16 758.52,1526.54 758.84,1525.92 759.15,1525.30 759.47,1524.68 759.79,1524.05 760.11,1523.42 760.43,1522.79 760.74,1522.15 761.06,1521.51 761.38,1520.87 761.70,1520.22 762.01,1519.58 762.33,1518.93 762.65,1518.27 762.97,1517.62 763.29,1516.96 763.60,1516.29 763.92,1515.63 764.24,1514.96 764.56,1514.29 764.88,1513.61 765.19,1512.94 765.51,1512.26 765.83,1511.57 766.15,1510.89 766.47,1510.20 766.78,1509.50 767.10,1508.81 767.42,1508.11 767.74,1507.41 768.05,1506.70 768.37,1505.99 768.69,1505.28 769.01,1504.56 769.33,1503.85 769.64,1503.12 769.96,1502.40 770.28,1501.67 770.60,1500.94 770.92,1500.21 771.23,1499.47 771.55,1498.73 771.87,1497.99 772.19,1497.24 772.50,1496.49 772.82,1495.73 773.14,1494.98 773.46,1494.22 773.78,1493.45 774.09,1492.69 774.41,1491.92 774.73,1491.14 775.05,1490.37 775.37,1489.58 775.68,1488.80 776.00,1488.01 776.32,1487.22 776.64,1486.43 776.96,1485.63 777.27,1484.83 777.59,1484.03 777.91,1483.22 778.23,1482.41 778.54,1481.60 778.86,1480.78 779.18,1479.96 779.50,1479.13 779.82,1478.30 780.13,1477.47 780.45,1476.64 780.77,1475.80 781.09,1474.95 781.41,1474.11 781.72,1473.26 782.04,1472.41 782.36,1471.55 782.68,1470.69 783.00,1469.83 783.31,1468.96 783.63,1468.09 783.95,1467.21 784.27,1466.33 784.58,1465.45 784.90,1464.57 785.22,1463.68 785.54,1462.79 785.86,1461.89 786.17,1460.99 786.49,1460.08 786.81,1459.18 787.13,1458.27 787.45,1457.35 787.76,1456.43 788.08,1455.51 788.40,1454.58 788.72,1453.65 789.03,1452.72 789.35,1451.78 789.67,1450.84 789.99,1449.90 790.31,1448.95 790.62,1447.99 790.94,1447.04 791.26,1446.08 791.58,1445.11 791.90,1444.15 792.21,1443.17 792.53,1442.20 792.85,1441.22 793.17,1440.23 793.49,1439.25 793.80,1438.26 794.12,1437.26 794.44,1436.26 794.76,1435.26 795.07,1434.25 795.39,1433.24 795.71,1432.22 796.03,1431.21 796.35,1430.18 796.66,1429.16 796.98,1428.12 797.30,1427.09 797.62,1426.05 797.94,1425.01 798.25,1423.96 798.57,1422.91 798.89,1421.85 799.21,1420.79 799.53,1419.73 799.84,1418.66 800.16,1417.59 800.48,1416.52 800.80,1415.44 801.11,1414.35 801.43,1413.27 801.75,1412.17 802.07,1411.08 802.39,1409.98 802.70,1408.87 803.02,1407.77 803.34,1406.66 803.66,1405.54 803.98,1404.42 804.29,1403.30 804.61,1402.17 804.93,1401.03 805.25,1399.90 805.57,1398.76 805.88,1397.61 806.20,1396.47 806.52,1395.31 806.84,1394.16 807.15,1393.00 807.47,1391.83 807.79,1390.66 808.11,1389.49 808.43,1388.31 808.74,1387.13 809.06,1385.95 809.38,1384.76 809.70,1383.56 810.02,1382.37 810.33,1381.16 810.65,1379.96 810.97,1378.75 811.29,1377.54 811.60,1376.32 811.92,1375.10 812.24,1373.87 812.56,1372.64 812.88,1371.41 813.19,1370.17 813.51,1368.92 813.83,1367.68 814.15,1366.43 814.47,1365.17 814.78,1363.91 815.10,1362.65 815.42,1361.38 815.74,1360.11 816.06,1358.84 816.37,1357.56 816.69,1356.27 817.01,1354.99 817.33,1353.69 817.64,1352.40 817.96,1351.10 818.28,1349.79 818.60,1348.49 818.92,1347.17 819.23,1345.86 819.55,1344.54 819.87,1343.21 820.19,1341.88 820.51,1340.55 820.82,1339.21 821.14,1337.87 821.46,1336.52 821.78,1335.18 822.10,1333.82 822.41,1332.46 822.73,1331.10 823.05,1329.73 823.37,1328.36 823.68,1326.99 824.00,1325.61 824.32,1324.23 824.64,1322.84 824.96,1321.45 825.27,1320.05 825.59,1318.65 825.91,1317.25 826.23,1315.84 826.55,1314.43 826.86,1313.01 827.18,1311.59 827.50,1310.17 827.82,1308.74 828.13,1307.31 828.45,1305.87 828.77,1304.43 829.09,1302.98 829.41,1301.53 829.72,1300.08 830.04,1298.62 830.36,1297.16 830.68,1295.69 831.00,1294.22 831.31,1292.75 831.63,1291.27 831.95,1289.79 832.27,1288.30 832.59,1286.81 832.90,1285.31 833.22,1283.81 833.54,1282.31 833.86,1280.80 834.17,1279.29 834.49,1277.77 834.81,1276.25 835.13,1274.73 835.45,1273.20 835.76,1271.66 836.08,1270.12 836.40,1268.58 836.72,1267.04 837.04,1265.49 837.35,1263.93 837.67,1262.37 837.99,1260.81 838.31,1259.24 838.63,1257.67 838.94,1256.10 839.26,1254.52 839.58,1252.93 839.90,1251.35 840.21,1249.75 840.53,1248.16 840.85,1246.56 841.17,1244.96 841.49,1243.35 841.80,1241.74 842.12,1240.12 842.44,1238.50 842.76,1236.88 843.08,1235.25 843.39,1233.62 843.71,1231.99 844.03,1230.35 844.35,1228.71 844.67,1227.06 844.98,1225.41 845.30,1223.76 845.62,1222.10 845.94,1220.44 846.25,1218.77 846.57,1217.11 846.89,1215.43 847.21,1213.76 847.53,1212.08 847.84,1210.40 848.16,1208.71 848.48,1207.02 848.80,1205.33 849.12,1203.63 849.43,1201.93 849.75,1200.22 850.07,1198.51 850.39,1196.80 850.70,1195.09 851.02,1193.37 851.34,1191.65 851.66,1189.92 851.98,1188.19 852.29,1186.46 852.61,1184.73 852.93,1182.99 853.25,1181.25 853.57,1179.50 853.88,1177.75 854.20,1176.00 854.52,1174.25 854.84,1172.49 855.16,1170.73 855.47,1168.96 855.79,1167.19 856.11,1165.42 856.43,1163.65 856.74,1161.87 857.06,1160.09 857.38,1158.31 857.70,1156.52 858.02,1154.73 858.33,1152.94 858.65,1151.14 858.97,1149.34 859.29,1147.54 859.61,1145.74 859.92,1143.93 860.24,1142.12 860.56,1140.30 860.88,1138.49 861.20,1136.67 861.51,1134.84 861.83,1133.02 862.15,1131.19 862.47,1129.36 862.78,1127.53 863.10,1125.69 863.42,1123.85 863.74,1122.01 864.06,1120.16 864.37,1118.32 864.69,1116.46 865.01,1114.61 865.33,1112.76 865.65,1110.90 865.96,1109.04 866.28,1107.17 866.60,1105.31 866.92,1103.44 867.23,1101.57 867.55,1099.69 867.87,1097.81 868.19,1095.94 868.51,1094.05 868.82,1092.17 869.14,1090.28 869.46,1088.39 869.78,1086.50 870.10,1084.61 870.41,1082.71 870.73,1080.81 871.05,1078.91 871.37,1077.01 871.69,1075.10 872.00,1073.19 872.32,1071.28 872.64,1069.37 872.96,1067.46 873.27,1065.54 873.59,1063.62 873.91,1061.70 874.23,1059.77 874.55,1057.85 874.86,1055.92 875.18,1053.99 875.50,1052.06 875.82,1050.12 876.14,1048.19 876.45,1046.25 876.77,1044.31 877.09,1042.36 877.41,1040.42 877.73,1038.47 878.04,1036.52 878.36,1034.57 878.68,1032.62 879.00,1030.66 879.31,1028.71 879.63,1026.75 879.95,1024.79 880.27,1022.83 880.59,1020.86 880.90,1018.90 881.22,1016.93 881.54,1014.96 881.86,1012.99 882.18,1011.02 882.49,1009.05 882.81,1007.07 883.13,1005.09 883.45,1003.12 883.77,1001.14 884.08,999.15 884.40,997.17 884.72,995.19 885.04,993.20 885.35,991.21 885.67,989.22 885.99,987.23 886.31,985.24 886.63,983.25 886.94,981.26 887.26,979.26 887.58,977.26 887.90,975.27 888.22,973.27 888.53,971.27 888.85,969.27 889.17,967.26 889.49,965.26 889.80,963.26 890.12,961.25 890.44,959.24 890.76,957.24 891.08,955.23 891.39,953.22 891.71,951.21 892.03,949.20 892.35,947.18 892.67,945.17 892.98,943.16 893.30,941.14 893.62,939.13 893.94,937.11 894.26,935.09 894.57,933.07 894.89,931.06 895.21,929.04 895.53,927.02 895.84,925.00 896.16,922.97 896.48,920.95 896.80,918.93 897.12,916.91 897.43,914.88 897.75,912.86 898.07,910.84 898.39,908.81 898.71,906.79 899.02,904.76 899.34,902.73 899.66,900.71 899.98,898.68 900.30,896.65 900.61,894.63 900.93,892.60 901.25,890.57 901.57,888.54 901.88,886.51 902.20,884.49 902.52,882.46 902.84,880.43 903.16,878.40 903.47,876.37 903.79,874.34 904.11,872.31 904.43,870.29 904.75,868.26 905.06,866.23 905.38,864.20 905.70,862.17 906.02,860.14 906.33,858.11 906.65,856.09 906.97,854.06 907.29,852.03 907.61,850.00 907.92,847.98 908.24,845.95 908.56,843.92 908.88,841.90 909.20,839.87 909.51,837.85 909.83,835.82 910.15,833.80 910.47,831.77 910.79,829.75 911.10,827.72 911.42,825.70 911.74,823.68 912.06,821.66 912.37,819.64 912.69,817.62 913.01,815.60 913.33,813.58 913.65,811.56 913.96,809.54 914.28,807.52 914.60,805.51 914.92,803.49 915.24,801.48 915.55,799.46 915.87,797.45 916.19,795.44 916.51,793.43 916.83,791.42 917.14,789.41 917.46,787.40 917.78,785.39 918.10,783.38 918.41,781.38 918.73,779.37 919.05,777.37 919.37,775.36 919.69,773.36 920.00,771.36 920.32,769.36 920.64,767.36 920.96,765.36 921.28,763.36 921.59,761.37 921.91,759.37 922.23,757.37 922.55,755.38 922.87,753.39 923.18,751.40 923.50,749.40 923.82,747.41 924.14,745.43 924.45,743.44 924.77,741.45 925.09,739.47 925.41,737.48 925.73,735.50 926.04,733.51 926.36,731.53 926.68,729.55 927.00,727.57 927.32,725.60 927.63,723.62 927.95,721.64 928.27,719.67 928.59,717.69 928.90,715.72 929.22,713.75 929.54,711.78 929.86,709.81 930.18,707.84 930.49,705.88 930.81,703.91 931.13,701.95 931.45,699.99 931.77,698.02 932.08,696.06 932.40,694.10 932.72,692.15 933.04,690.19 933.36,688.24 933.67,686.28 933.99,684.33 934.31,682.38 934.63,680.43 934.94,678.48 935.26,676.53 935.58,674.59 935.90,672.64 936.22,670.70 936.53,668.76 936.85,666.82 937.17,664.88 937.49,662.94 937.81,661.00 938.12,659.07 938.44,657.13 938.76,655.20 939.08,653.27 939.40,651.34 939.71,649.41 940.03,647.49 940.35,645.56 940.67,643.64 940.98,641.72 941.30,639.80 941.62,637.88 941.94,635.96 942.26,634.05 942.57,632.13 942.89,630.22 943.21,628.31 943.53,626.40 943.85,624.49 944.16,622.58 944.48,620.68 944.80,618.78 945.12,616.87 945.43,614.97 945.75,613.08 946.07,611.18 946.39,609.28 946.71,607.39 947.02,605.50 947.34,603.61 947.66,601.72 947.98,599.83 948.30,597.95 948.61,596.07 948.93,594.18 949.25,592.30 949.57,590.43 949.89,588.55 950.20,586.67 950.52,584.80 950.84,582.93 951.16,581.06 951.47,579.19 951.79,577.33 952.11,575.46 952.43,573.60 952.75,571.74 953.06,569.88 953.38,568.03 953.70,566.17 954.02,564.32 954.34,562.47 954.65,560.62 954.97,558.77 955.29,556.92 955.61,555.08 955.93,553.24 956.24,551.40 956.56,549.56 956.88,547.72 957.20,545.88 957.52,544.05 957.84,542.22 958.16,540.39 958.47,538.56 958.79,536.73 959.11,534.90 959.43,533.08 959.75,531.26 960.07,529.43 960.39,527.61 960.71,525.80 961.03,523.98 961.35,522.16 961.67,520.35 962.00,518.54 962.32,516.73 962.64,514.92 962.96,513.11 963.28,511.30 963.61,509.49 963.93,507.69 964.25,505.89 964.58,504.08 964.90,502.28 965.23,500.48 965.55,498.68 965.88,496.89 966.20,495.09 966.53,493.30 966.85,491.50 967.18,489.71 967.51,487.92 967.84,486.13 968.16,484.34 968.49,482.55 968.82,480.76 969.15,478.98 969.48,477.19 969.81,475.41 970.14,473.62 970.48,471.84 970.81,470.06 971.14,468.28 971.48,466.50 971.81,464.72 972.14,462.94 972.48,461.17 972.81,459.39 973.15,457.61 973.49,455.84 973.83,454.07 974.16,452.29 974.50,450.52 974.84,448.75 975.18,446.98 975.53,445.21 975.87,443.44 976.21,441.67 976.55,439.90 976.90,438.13 977.24,436.36 977.59,434.60 977.93,432.83 978.28,431.07 978.63,429.30 978.98,427.54 979.33,425.77 979.68,424.01 980.03,422.25 980.38,420.48 980.73,418.72 981.09,416.96 981.44,415.20 981.80,413.44 982.15,411.68 982.51,409.91 982.87,408.15 983.23,406.39 983.59,404.64 983.95,402.88 984.31,401.12 984.67,399.36 985.04,397.60 985.40,395.84 985.77,394.08 986.13,392.32 986.50,390.57 986.87,388.81 987.24,387.05 987.61,385.29 987.98,383.53 988.36,381.78 988.73,380.02 989.11,378.26 989.48,376.50 989.86,374.75 990.24,372.99 990.62,371.23 991.00,369.47 991.38,367.72 991.76,365.96 992.15,364.20 992.53,362.44 992.92,360.68 993.31,358.92 993.70,357.16 994.09,355.41 994.48,353.65 994.87,351.89 995.27,350.13 995.66,348.37 996.06,346.61 996.46,344.84 996.86,343.08 997.26,341.32 997.66,339.56 998.06,337.80 998.47,336.03 998.87,334.27 999.28,332.50 999.69,330.73 1000.11,328.96 1000.52,327.19 1000.93,325.42 1001.35,323.65 1001.77,321.87 1002.19,320.09 1002.62,318.31 1003.04,316.53 1003.47,314.74 1003.90,312.96 1004.33,311.17 1004.77,309.37 1005.21,307.58 1005.65,305.78 1006.09,303.98 1006.53,302.18 1006.98,300.37 1007.43,298.56 1007.88,296.74 1008.34,294.92 1008.80,293.10 1009.26,291.27 1009.72,289.44 1010.19,287.61 1010.66,285.77 1011.13,283.93 1011.61,282.08 1012.09,280.23 1012.57,278.37 1013.06,276.51 1013.55,274.64 1014.04,272.77 1014.54,270.89 1015.04,269.01 1015.54,267.12 1016.05,265.23 1016.56,263.33 1017.07,261.43 1017.59,259.52 1018.11,257.60 1018.64,255.68 1019.17,253.75 1019.70,251.81 1020.24,249.87 1020.78,247.92 1021.32,245.96 1021.87,244.00 1022.43,242.03 1022.99,240.05 1023.55,238.07 1024.12,236.08 1024.69,234.08 1025.26,232.07 1025.85,230.06 1026.43,228.04 1027.02,226.01 1027.62,223.97 1028.21,221.92 1028.82,219.87 1029.43,217.81 1030.04,215.74 1030.66,213.65 1031.29,211.57 1031.91,209.47 1032.55,207.36 1033.19,205.24 1033.83,203.12 1034.48,200.98 1035.14,198.84 1035.80,196.69 1036.46,194.52 1037.14,192.35 1037.81,190.17 1038.50,187.97 1039.18,185.77 1039.88,183.55 1040.58,181.33 1041.28,179.09 1042.00,176.85 1042.71,174.59 1043.44,172.32 1044.17,170.05 1044.90,167.76 1045.64,165.45 1046.39,163.14 1047.14,160.82 1047.90,158.48 1048.67,156.13 1049.44,153.77 1050.22,151.40 1051.01,149.02 1051.80,146.62 1052.60,144.21 1053.41,141.79 1054.22,139.36 1055.04,136.91 1055.87,134.46 1056.70,131.98 1057.54,129.50 1058.38,127.00 1059.24,124.49 1060.10,121.96 1060.97,119.43 1061.84,116.87 1062.72,114.31 1063.61,111.73 1064.51,109.13 1065.42,106.52 1066.33,103.90 1067.25,101.27 1068.17,98.61 1069.11,95.95 1070.05,93.27 1071.00,90.57" stroke="#800000" stroke-width="5.8" fill="none" stroke-dasharray="28.5 24.86" stroke-dashoffset="4.72"/>
<g fill="#000"><rect x="469" y="1639" width="31" height="31"/><rect x="508" y="1639" width="31" height="31"/><rect x="547" y="1634" width="31" height="31"/><rect x="587" y="1627" width="31" height="31"/><rect x="626" y="1617" width="31" height="31"/><rect x="664" y="1603" width="31" height="31"/><rect x="704" y="1573" width="31" height="31"/><rect x="743" y="1519" width="31" height="31"/><rect x="782" y="1422" width="31" height="31"/><rect x="821" y="1264" width="31" height="31"/><rect x="860" y="1042" width="31" height="31"/><rect x="899" y="788" width="31" height="31"/><rect x="938" y="546" width="31" height="31"/><rect x="977" y="332" width="31" height="31"/><rect x="1016" y="186" width="31" height="31"/><rect x="1055" y="75" width="31" height="31"/><rect x="1055" y="60" width="31" height="31"/></g>
<rect x="277" y="73.5" width="439" height="1577" fill="#f0f" fill-opacity="0.2"/>
<rect x="1218" y="73" width="513" height="1576" fill="rgb(0,205,145)" fill-opacity="0.15"/>
<rect x="351" y="115" width="584" height="265" fill="#fff" stroke="#000" stroke-width="2"/>
<path d="M355 161.9H422.9M448.2 161.9H516.4" stroke="#f00" stroke-width="6"/>
<rect x="425.1" y="151.4" width="21" height="21" fill="#fff" stroke="#f00" stroke-width="2"/>
<path d="M354 247.5H517" stroke="#00f" stroke-width="7"/>
<circle cx="435.3" cy="247.4" r="15.3" fill="#fff" stroke="#00f" stroke-width="3.7"/>
<g fill="#800000"><rect x="355" y="330" width="29" height="6"/><rect x="408" y="330" width="10" height="6"/><rect x="453" y="330" width="29" height="6"/><rect x="506" y="330" width="10" height="6"/></g>
<rect x="419.8" y="318" width="32" height="31" fill="#000"/>
<g fill="#000"><text transform="translate(198.60 1668.70) scale(1.0135 1.0419)" font-family="'Liberation Serif', 'DejaVu Serif', serif" font-size="65">0</text><text transform="translate(165.66 1510.82) scale(1.0135 1.0419)" font-family="'Liberation Serif', 'DejaVu Serif', serif" font-size="65">10</text><text transform="translate(165.66 1352.95) scale(1.0135 1.0419)" font-family="'Liberation Serif', 'DejaVu Serif', serif" font-size="65">20</text><text transform="translate(165.66 1195.07) scale(1.0135 1.0419)" font-family="'Liberation Serif', 'DejaVu Serif', serif" font-size="65">30</text><text transform="translate(165.66 1037.20) scale(1.0135 1.0419)" font-family="'Liberation Serif', 'DejaVu Serif', serif" font-size="65">40</text><text transform="translate(165.66 879.32) scale(1.0135 1.0419)" font-family="'Liberation Serif', 'DejaVu Serif', serif" font-size="65">50</text><text transform="translate(165.66 721.45) scale(1.0135 1.0419)" font-family="'Liberation Serif', 'DejaVu Serif', serif" font-size="65">60</text><text transform="translate(165.66 563.57) scale(1.0135 1.0419)" font-family="'Liberation Serif', 'DejaVu Serif', serif" font-size="65">70</text><text transform="translate(165.66 405.70) scale(1.0135 1.0419)" font-family="'Liberation Serif', 'DejaVu Serif', serif" font-size="65">80</text><text transform="translate(165.66 247.82) scale(1.0135 1.0419)" font-family="'Liberation Serif', 'DejaVu Serif', serif" font-size="65">90</text><text transform="translate(132.72 89.95) scale(1.0135 1.0419)" font-family="'Liberation Serif', 'DejaVu Serif', serif" font-size="65">100</text><text transform="translate(201.54 1745.80) scale(0.9798 1.0465)" font-family="'Liberation Serif', 'DejaVu Serif', serif" font-weight="normal" font-style="normal" font-size="65">0.0001</text><text transform="translate(541.74 1745.80) scale(0.9800 1.0465)" font-family="'Liberation Serif', 'DejaVu Serif', serif" font-weight="normal" font-style="normal" font-size="65">0.001</text><text transform="translate(895.24 1745.80) scale(0.9815 1.0465)" font-family="'Liberation Serif', 'DejaVu Serif', serif" font-weight="normal" font-style="normal" font-size="65">0.01</text><text transform="translate(1249.09 1745.80) scale(1.0027 1.0465)" font-family="'Liberation Serif', 'DejaVu Serif', serif" font-weight="normal" font-style="normal" font-size="65">0.1</text><text transform="translate(1610.80 1745.80) scale(1.0000 1.0465)" font-family="'Liberation Serif', 'DejaVu Serif', serif" font-weight="normal" font-style="normal" font-size="65">1</text><text transform="translate(1932.47 1745.80) scale(1.0211 1.0465)" font-family="'Liberation Serif', 'DejaVu Serif', serif" font-weight="normal" font-style="normal" font-size="65">10</text><text transform="translate(544.03 183.70) scale(0.9686 1.0342)" font-family="'Liberation Serif', 'DejaVu Serif', serif" font-weight="normal" font-style="italic" font-size="57">Soil</text><text transform="translate(646.39 183.70) scale(1.0082 1.0342)" font-family="'Liberation Serif', 'DejaVu Serif', serif" font-weight="normal" font-style="italic" font-size="57">sample</text><text transform="translate(541.74 269.70) scale(1.0879 1.0342)" font-family="'Liberation Serif', 'DejaVu Serif', serif" font-weight="normal" font-style="italic" font-size="57">CLW</text><text transform="translate(682.10 269.70) scale(1.0038 1.0342)" font-family="'Liberation Serif', 'DejaVu Serif', serif" font-weight="normal" font-style="italic" font-size="57">sample</text><text transform="translate(529.60 355.70) scale(0.9985 1.0342)" font-family="'Liberation Serif', 'DejaVu Serif', serif" font-weight="normal" font-style="italic" font-size="57">Portland</text><text transform="translate(747.33 355.70) scale(1.0244 1.0342)" font-family="'Liberation Serif', 'DejaVu Serif', serif" font-weight="normal" font-style="italic" font-size="57">Cement</text><text transform="translate(427.22 1097.80) scale(1.0940 1.0532)" font-family="'Liberation Serif', 'DejaVu Serif', serif" font-weight="bold" font-style="italic" font-size="72">Clay</text><text transform="translate(977.89 1097.60) scale(1.1089 1.0532)" font-family="'Liberation Serif', 'DejaVu Serif', serif" font-weight="bold" font-style="italic" font-size="72">Silt</text><text transform="translate(1403.89 1096.20) scale(1.0105 1.0532)" font-family="'Liberation Serif', 'DejaVu Serif', serif" font-weight="bold" font-style="italic" font-size="72">Sand</text><text transform="translate(1748.77 1096.20) scale(1.0667 1.0532)" font-family="'Liberation Serif', 'DejaVu Serif', serif" font-weight="bold" font-style="italic" font-size="72">Gravel</text><text transform="translate(679.89 1876.70) scale(1.0148 1.0383)" font-family="'Liberation Serif', 'DejaVu Serif', serif" font-weight="bold" font-style="normal" font-size="72">Particle</text><text transform="translate(940.95 1876.70) scale(1.0487 1.0383)" font-family="'Liberation Serif', 'DejaVu Serif', serif" font-weight="bold" font-style="normal" font-size="72">diameter</text><text transform="translate(1246.26 1876.70) scale(1.1222 1.0383)" font-family="'Liberation Serif', 'DejaVu Serif', serif" font-weight="bold" font-style="normal" font-size="72">size</text><text transform="translate(1391.54 1876.70) scale(1.0198 1.0383)" font-family="'Liberation Serif', 'DejaVu Serif', serif" font-weight="bold" font-style="normal" font-size="72">(mm)</text><text transform="translate(98.70 1322.04) rotate(-90) scale(1.0386 1.0362)" font-family="'Liberation Serif', 'DejaVu Serif', serif" font-weight="bold" font-style="normal" font-size="72">Percent</text><text transform="translate(98.70 1061.46) rotate(-90) scale(1.0570 1.0362)" font-family="'Liberation Serif', 'DejaVu Serif', serif" font-weight="bold" font-style="normal" font-size="72">Finer</text><text transform="translate(98.70 874.11) rotate(-90) scale(1.1081 1.0362)" font-family="'Liberation Serif', 'DejaVu Serif', serif" font-weight="bold" font-style="normal" font-size="72">by</text><text transform="translate(98.70 771.97) rotate(-90) scale(1.0667 1.0362)" font-family="'Liberation Serif', 'DejaVu Serif', serif" font-weight="bold" font-style="normal" font-size="72">Weight</text><text transform="translate(98.70 506.45) rotate(-90) scale(0.8158 1.0362)" font-family="'Liberation Serif', 'DejaVu Serif', serif" font-weight="bold" font-style="normal" font-size="72">(%)</text></g>
</svg></body></html>
